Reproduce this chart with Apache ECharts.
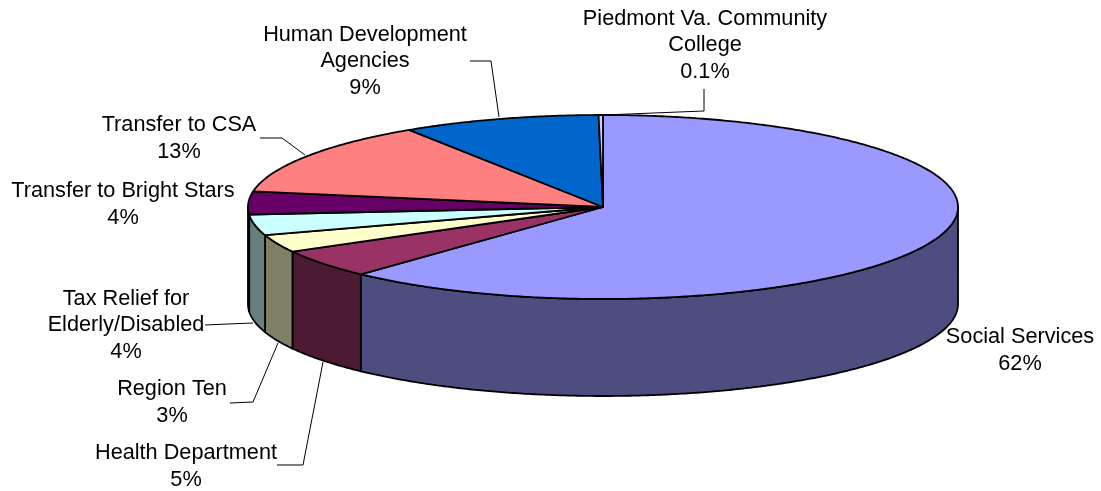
<!DOCTYPE html>
<html>
<head>
<meta charset="utf-8">
<style>
  html, body { margin: 0; padding: 0; background: #fff; }
  #chart { width: 1101px; height: 491px; }
</style>
<script src="https://cdn.jsdelivr.net/npm/echarts@6/dist/echarts.min.js"></script>
</head>
<body>
<div id="chart"></div>
<script>
// Slices, clockwise from 12 o'clock
const categories = ['Social Services', 'Health Department', 'Region Ten', 'Tax Relief for\nElderly/Disabled',
  'Transfer to Bright Stars', 'Transfer to CSA', 'Human Development\nAgencies', 'Piedmont Va. Community\nCollege']
const shares = [61.95, 5.0, 3.1, 3.65, 4.0, 13.1, 9.0, 0.2]
const shareLabels = ['62%', '5%', '3%', '4%', '4%', '13%', '9%', '0.1%']
const topColors = ['#9999FF', '#993366', '#FFFFCC', '#CCFFFF', '#660066', '#FF8080', '#0066CC', '#CCCCFF']
const sideColors = ['#4D4D80', '#4D1A33', '#808066', '#668080', '#330033', '#804040', '#003366', '#666680']

// Pie geometry (px)
const cx = 603
const cy = 207
const rx = 355
const ry = 92
const depth = 97

// Label placement: centre x, first line y, optional leader line
const labelPlaces = [
  { x: 1020, y: 337.5, line: null },
  { x: 186, y: 453.5, line: [[277, 465], [303, 465], [323, 362]] },
  { x: 172, y: 389.5, line: [[230, 403], [253, 402], [278, 343]] },
  { x: 126, y: 299, line: [[205, 325], [228, 324], [253, 323]] },
  { x: 123, y: 191.5, line: null },
  { x: 179, y: 125.5, line: [[260, 138], [282, 138], [305, 155]] },
  { x: 365, y: 35, line: [[470, 61], [491, 61], [499, 117]] },
  { x: 705, y: 19, line: [[704, 89], [704, 111], [603, 115]] }
]

const LINE_HEIGHT = 26.5

const ellipsePoint = (deg, drop) => {
  const t = deg * Math.PI / 180
  return [cx + rx * Math.sin(t), cy - ry * Math.cos(t) + (drop || 0)]
}

const arcPoints = (from, to, drop) => {
  const pts = []
  const steps = Math.max(1, Math.ceil(Math.abs(to - from) * 2))
  for (let i = 0; i <= steps; i++) {
    pts.push(ellipsePoint(from + (to - from) * i / steps, drop))
  }
  return pts
}

// start / end angle of each slice from the shares
const total = shares.reduce((a, b) => a + b, 0)
let running = 0
const sliceRows = shares.map((v, i) => {
  const start = running / total * 360
  running += v
  return [start, running / total * 360, i]
})

const renderSlice = (params, api) => {
  const start = api.value(0)
  const end = api.value(1)
  const idx = api.value(2)
  const children = []

  // only the front half of the rim is visible
  const sideFrom = Math.max(start, 90)
  const sideTo = Math.min(end, 270)
  if (sideTo > sideFrom) {
    const upper = arcPoints(sideFrom, sideTo, 0)
    const lower = arcPoints(sideFrom, sideTo, depth).reverse()
    children.push({
      type: 'polygon',
      shape: { points: upper.concat(lower) },
      style: { fill: sideColors[idx], stroke: '#000', lineWidth: 1.8, lineJoin: 'round' }
    })
  }

  children.push({
    type: 'polygon',
    shape: { points: [[cx, cy]].concat(arcPoints(start, end, 0)) },
    style: { fill: topColors[idx], stroke: '#000', lineWidth: 1.8, lineJoin: 'round' }
  })
  return { type: 'group', children }
}

const renderLabel = (params, api) => {
  const idx = api.value(0)
  const place = labelPlaces[idx]
  const children = []
  if (place.line) {
    children.push({
      type: 'polyline',
      shape: { points: place.line },
      style: { fill: 'none', stroke: '#000', lineWidth: 1 }
    })
  }
  const lines = categories[idx].split('\n').concat(shareLabels[idx])
  lines.forEach((text, n) => {
    children.push({
      type: 'text',
      style: {
        text,
        x: place.x,
        y: place.y + n * LINE_HEIGHT,
        textAlign: 'center',
        textVerticalAlign: 'middle',
        fontFamily: 'Liberation Sans',
        fontSize: 21.7,
        fill: '#000'
      }
    })
  })
  return { type: 'group', children }
}

const chart = echarts.init(document.getElementById('chart'))
chart.setOption({
  animation: false,
  backgroundColor: '#fff',
  series: [
    {
      type: 'custom',
      coordinateSystem: 'none',
      silent: true,
      renderItem: renderSlice,
      data: sliceRows,
      z: 2
    },
    {
      type: 'custom',
      coordinateSystem: 'none',
      silent: true,
      renderItem: renderLabel,
      data: categories.map((_, i) => [i]),
      z: 3
    }
  ]
})
</script>
</body>
</html>
